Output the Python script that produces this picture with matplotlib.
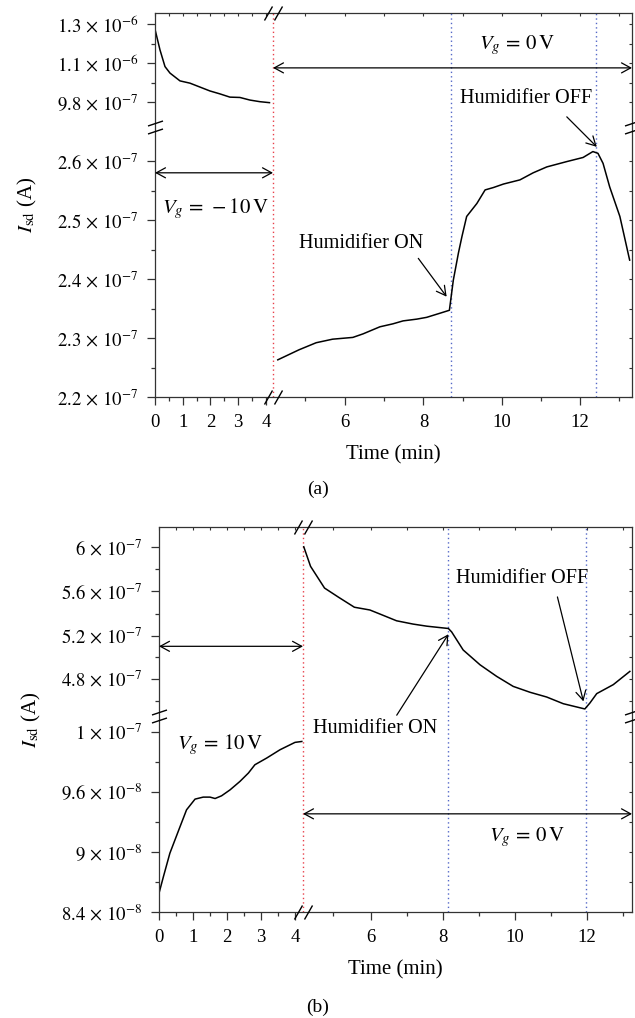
import numpy as np
import matplotlib.pyplot as plt
from matplotlib.path import Path

plt.rcParams['font.family'] = ['Liberation Serif', 'DejaVu Serif']
plt.rcParams['mathtext.fontset'] = 'stix'
plt.rcParams['font.size'] = 13

# ---------------- data ----------------
# panel (a): Vg = -10 V part (0-4.2 min) and Vg = 0 V part
a_t_left = [0, 0.18, 0.36, 0.54, 0.90, 1.26, 1.62, 1.98, 2.34, 2.70, 3.06, 3.42, 3.78, 4.10]
a_i_left = np.array([1.273, 1.167, 1.089, 1.069, 1.045, 1.038, 1.026, 1.014, 1.005,
                     0.995, 0.994, 0.986, 0.981, 0.978]) * 1e-6
a_t_right = [4.32, 4.85, 5.28, 5.69, 6.20, 6.46, 6.89, 7.22, 7.48, 7.83, 8.08, 8.42, 8.66,
             8.76, 8.89, 8.98, 9.10, 9.36, 9.57, 9.78, 10.04, 10.46, 10.80, 11.15, 11.66,
             12.08, 12.33, 12.46, 12.59, 12.76, 13.02, 13.27]
a_i_right = np.array([2.263, 2.280, 2.292, 2.298, 2.301, 2.307, 2.319, 2.324, 2.329, 2.332,
                      2.335, 2.342, 2.347, 2.398, 2.444, 2.472, 2.506, 2.528, 2.551, 2.555,
                      2.561, 2.568, 2.580, 2.590, 2.599, 2.606, 2.616, 2.613, 2.596, 2.556,
                      2.506, 2.432]) * 1e-7
a_events = [4.2, 8.70, 12.40]   # gate switch, humidifier on, humidifier off

# panel (b): Vg = 10 V part and Vg = 0 V part
b_t_left = [0, 0.13, 0.32, 0.62, 0.81, 1.06, 1.30, 1.50, 1.65, 1.84, 2.09, 2.38, 2.63,
            2.82, 3.17, 3.56, 4.00, 4.17]
b_i_left = np.array([8.587, 8.753, 8.987, 9.253, 9.420, 9.527, 9.547, 9.547, 9.533, 9.560,
                     9.613, 9.669, 9.725, 9.780, 9.825, 9.880, 9.929, 9.935]) * 1e-8
b_t_right = [4.22, 4.40, 4.77, 5.14, 5.56, 5.97, 6.25, 6.71, 7.17, 7.55, 8.15, 8.24, 8.56,
             9.03, 9.49, 9.95, 10.42, 10.88, 11.34, 11.94, 12.08, 12.27, 12.73, 13.19]
b_i_right = np.array([6.006, 5.828, 5.631, 5.548, 5.457, 5.432, 5.395, 5.334, 5.304, 5.285,
                      5.264, 5.233, 5.066, 4.928, 4.821, 4.729, 4.675, 4.632, 4.571, 4.523,
                      4.577, 4.663, 4.745, 4.867]) * 1e-7
b_events = [4.2, 8.15, 11.97]

# ticks
x_major = [0, 1, 2, 3, 4, 6, 8, 10, 12]
x_minor = [0.5, 1.5, 2.5, 3.5, 5, 7, 9, 11, 13]

a_y_major = [2.2e-7, 2.3e-7, 2.4e-7, 2.5e-7, 2.6e-7, 9.8e-7, 1.1e-6, 1.3e-6]
a_y_labels = ['2.2', '2.3', '2.4', '2.5', '2.6', '9.8', '1.1', '1.3']
a_y_exp = [-7, -7, -7, -7, -7, -7, -6, -6]
a_y_minor = [2.25e-7, 2.35e-7, 2.45e-7, 2.55e-7, 1.04e-6, 1.2e-6]

b_y_major = [8.4e-8, 9e-8, 9.6e-8, 1e-7, 4.8e-7, 5.2e-7, 5.6e-7, 6e-7]
b_y_labels = ['8.4', '9', '9.6', '1', '4.8', '5.2', '5.6', '6']
b_y_exp = [-8, -8, -8, -7, -7, -7, -7, -7]
b_y_minor = [8.7e-8, 9.3e-8, 9.8e-8, 4.6e-7, 5.0e-7, 5.4e-7, 5.8e-7]

# ---------------- broken-axis scales (piecewise linear) ----------------
a_x_anchor = ([-1, 0, 4, 4.2, 6, 8, 10, 12, 14.5],
              [127.2, 155, 266, 273, 345, 423.5, 502, 580, 677.8])
a_y_anchor = ([2.0e-7, 2.2e-7, 2.6e-7, 2.65e-7, 9.3e-7, 9.8e-7, 1.1e-6, 1.3e-6, 1.5e-6],
              [515, 397, 161, 131.5, 118.25, 102, 63, 24, -15])
b_x_anchor = ([-1, 0, 4, 4.2, 6, 8, 10, 12, 14.5],
              [125, 159, 295, 303, 371, 443, 515, 587, 677])
b_y_anchor = ([7.8e-8, 8.4e-8, 9.0e-8, 9.6e-8, 1.0e-7, 1.008e-7, 4.5e-7, 4.8e-7, 5.2e-7,
               5.6e-7, 6.0e-7, 6.5e-7],
              [972, 912, 852, 792, 732, 720, 711.8, 679, 636, 592, 548, 494.4])

red = '#e8404a'
blue = '#5468c8'
spine_col = '#333333'

brk_x = Path([(-9, -7), (-1, 7), (1, -7), (9, 7)],
             [Path.MOVETO, Path.LINETO, Path.MOVETO, Path.LINETO])
brk_y = Path([(-7.5, -6.5), (7.5, -1.5), (-7.5, 1.5), (7.5, 6.5)],
             [Path.MOVETO, Path.LINETO, Path.MOVETO, Path.LINETO])


def func_scale(vals, pos):
    vals = np.asarray(vals, float)
    pos = np.asarray(pos, float)
    if pos[0] > pos[-1]:
        pos = -pos
    fwd = lambda v: np.interp(v, vals, pos)
    inv = lambda p: np.interp(p, pos, vals)
    return fwd, inv


def setup(ax, x_anchor, y_anchor, xlim, ylim, y_major, y_labels, y_exp, y_minor, y_break):
    ax.set_xscale('function', functions=func_scale(*x_anchor))
    ax.set_yscale('function', functions=func_scale(*y_anchor))
    ax.set_xlim(*xlim)
    ax.set_ylim(*ylim)
    ax.set_xticks(x_major)
    ax.set_xticklabels([str(v) for v in x_major])
    ax.set_xticks(x_minor, minor=True)
    ax.set_yticks(y_major)
    ax.set_yticklabels([r'$%s\,\times\,10^{%d}$' % (m, e) for m, e in zip(y_labels, y_exp)])
    ax.set_yticks(y_minor, minor=True)
    ax.tick_params(which='both', direction='out', top=False, right=False,
                   color=spine_col, width=0.9)
    ax.tick_params(axis='x', which='major', length=5.5, pad=7, labelsize=13.5)
    ax.tick_params(axis='y', which='major', length=6, pad=6, labelsize=13.5)
    ax.tick_params(which='minor', length=3)
    for s in ax.spines.values():
        s.set_color(spine_col)
        s.set_linewidth(0.9)
    # small inward ticks on top and right frame
    xt = x_major + x_minor
    ax.plot(xt, [1] * len(xt), transform=ax.get_xaxis_transform(), ls='none',
            marker=3, ms=2.5, mew=0.8, color=spine_col, clip_on=False)
    yt = y_major + y_minor
    ax.plot([1] * len(yt), yt, transform=ax.get_yaxis_transform(), ls='none',
            marker=0, ms=2.5, mew=0.8, color=spine_col, clip_on=False)
    # break marks
    ax.plot([4.2, 4.2], [0, 1], transform=ax.get_xaxis_transform(), ls='none',
            marker=brk_x, ms=13, mew=1.0, mfc='none', color='k', clip_on=False, zorder=5)
    ax.plot([0, 1], [y_break, y_break], transform=ax.get_yaxis_transform(), ls='none',
            marker=brk_y, ms=10.8, mew=1.0, mfc='none', color='k', clip_on=False, zorder=5)
    ax.set_xlabel('Time (min)', fontsize=15, labelpad=10)
    ax.set_ylabel(r'$I_{\mathrm{sd}}$ (A)', fontsize=15, labelpad=13)


def vlines(ax, events):
    ax.axvline(events[0], color=red, ls=(0, (1, 2.2)), lw=1.0)
    for e in events[1:]:
        ax.axvline(e, color=blue, ls=(0, (1, 2.2)), lw=1.0)


arrow2 = dict(arrowstyle='<->,head_length=0.55,head_width=0.3', lw=0.9, color='k',
              shrinkA=0, shrinkB=0, mutation_scale=12)
arrow1 = dict(arrowstyle='->,head_length=0.55,head_width=0.3', lw=0.9, color='k',
              shrinkA=0, shrinkB=0, mutation_scale=12)

fs_txt = 14.6
fs_vg = 15

fig = plt.figure(figsize=(6.35, 10.18), dpi=100)

# ---------------- panel (a) ----------------
ax1 = fig.add_axes([155 / 635, 1 - 397 / 1018, 477 / 635, 384.3 / 1018])
setup(ax1, a_x_anchor, a_y_anchor, (0, 13.33), (2.2e-7, 1.358e-6),
      a_y_major, a_y_labels, a_y_exp, a_y_minor, 5e-7)
vlines(ax1, a_events)
ax1.plot(a_t_left, a_i_left, color='k', lw=1.1)
ax1.plot(a_t_right, a_i_right, color='k', lw=1.1)
ax1.annotate('', xy=(13.33, 1.085e-6), xytext=(4.2, 1.085e-6), arrowprops=arrow2)
ax1.annotate('', xy=(4.2, 2.58e-7), xytext=(0, 2.58e-7), arrowprops=arrow2)
ax1.text(10.38, 1.192e-6, r'$V_g\,=\,0\,\mathrm{V}$', ha='center', va='center', fontsize=fs_vg)
ax1.text(2.16, 2.52e-7, r'$V_g\,=\,-10\,\mathrm{V}$', ha='center', va='center', fontsize=fs_vg)
ax1.text(6.41, 2.461e-7, 'Humidifier ON', ha='center', va='center', fontsize=fs_txt)
ax1.text(10.62, 0.9923e-6, 'Humidifier OFF', ha='center', va='center', fontsize=fs_txt)
ax1.annotate('', xy=(8.59, 2.370e-7), xytext=(-20.4, 27.6), textcoords='offset points',
             arrowprops=arrow1)
ax1.annotate('', xy=(12.43, 2.624e-7), xytext=(-21.6, 21.6), textcoords='offset points',
             arrowprops=arrow1)

# ---------------- panel (b) ----------------
ax2 = fig.add_axes([159 / 635, 1 - 912 / 1018, 473 / 635, 385 / 1018])
setup(ax2, b_x_anchor, b_y_anchor, (0, 13.25), (8.4e-8, 6.19e-7),
      b_y_major, b_y_labels, b_y_exp, b_y_minor, 2.7e-7)
vlines(ax2, b_events)
ax2.plot(b_t_left, b_i_left, color='k', lw=1.1)
ax2.plot(b_t_right, b_i_right, color='k', lw=1.1)
ax2.annotate('', xy=(4.2, 5.10e-7), xytext=(0, 5.10e-7), arrowprops=arrow2)
ax2.annotate('', xy=(13.25, 9.38e-8), xytext=(4.2, 9.38e-8), arrowprops=arrow2)
ax2.text(1.79, 9.913e-8, r'$V_g\,=\,10\,\mathrm{V}$', ha='center', va='center', fontsize=fs_vg)
ax2.text(10.33, 9.15e-8, r'$V_g\,=\,0\,\mathrm{V}$', ha='center', va='center', fontsize=fs_vg)
ax2.text(6.11, 1.002e-7, 'Humidifier ON', ha='center', va='center', fontsize=fs_txt)
ax2.text(10.19, 5.722e-7, 'Humidifier OFF', ha='center', va='center', fontsize=fs_txt)
ax2.annotate('', xy=(8.15, 5.212e-7), xytext=(-37.2, -58.3), textcoords='offset points',
             arrowprops=arrow1)
ax2.annotate('', xy=(11.90, 4.592e-7), xytext=(-18.7, 75.2), textcoords='offset points',
             arrowprops=arrow1)

fig.text(0.5, 1 - 489 / 1018, '(a)', ha='center', va='center', fontsize=14)
fig.text(0.5, 1 - 1007 / 1018, '(b)', ha='center', va='center', fontsize=14)

fig.savefig('out.png', dpi=100)
